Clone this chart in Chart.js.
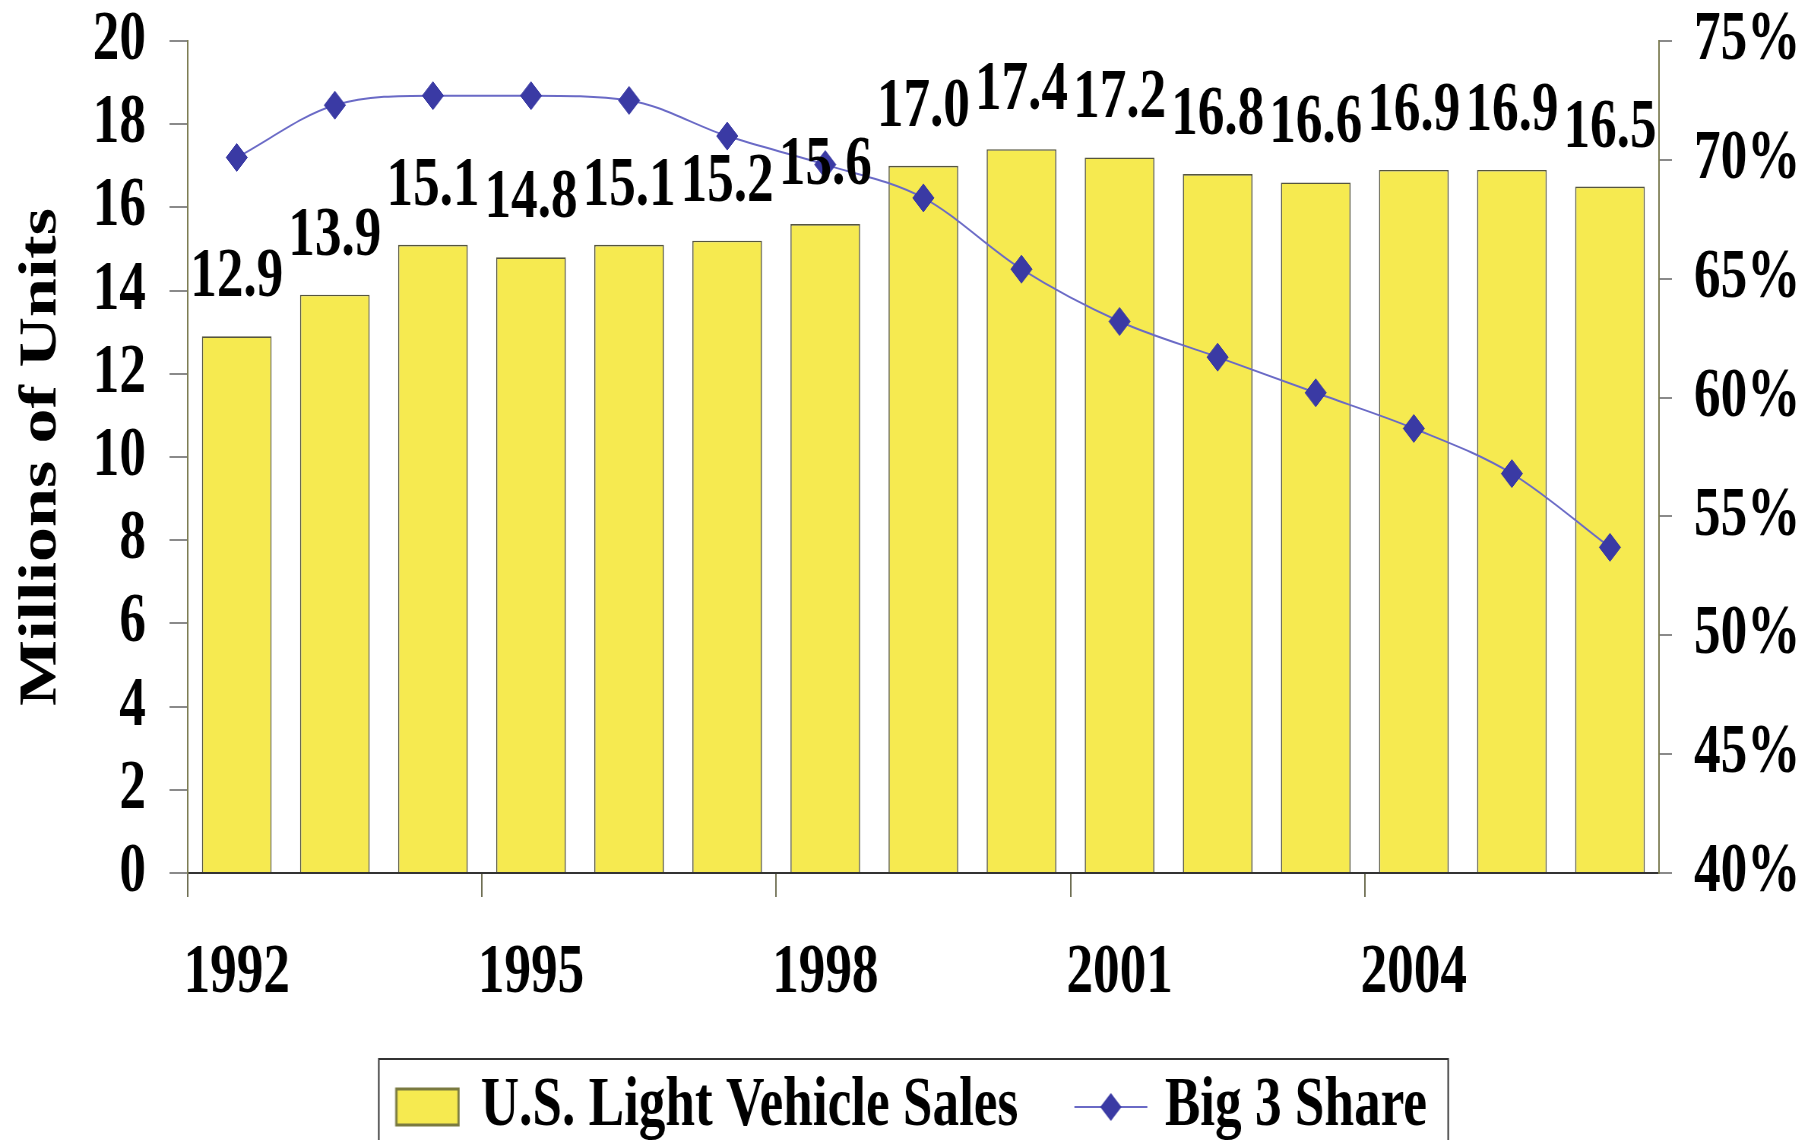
<!DOCTYPE html>
<html><head><meta charset="utf-8">
<script src="https://cdn.jsdelivr.net/npm/chart.js@4.4.0/dist/chart.umd.min.js"></script>
<style>
html,body{margin:0;padding:0;background:#fff;overflow:hidden;width:1811px;height:1140px;}
#wrap{position:absolute;left:0;top:0;width:2383px;height:1140px;transform:scaleX(0.75997);transform-origin:0 0;}
canvas{display:block;}
</style></head><body><div id="wrap"><canvas id="c" width="2383" height="1140"></canvas></div>
<script>
const years = ['1992','1993','1994','1995','1996','1997','1998','1999','2000','2001','2002','2003','2004','2005','2006'];
const sales = [12.9, 13.9, 15.1, 14.8, 15.1, 15.2, 15.6, 17.0, 17.4, 17.2, 16.8, 16.6, 16.9, 16.9, 16.5];
const big3Share = [70.1, 72.3, 72.7, 72.7, 72.5, 71.0, 69.8, 68.4, 65.4, 63.2, 61.7, 60.2, 58.7, 56.8, 53.7];
const xTickLabels = ['1992','1995','1998','2001','2004'];
const leftTicks = [0, 2, 4, 6, 8, 10, 12, 14, 16, 18, 20];
const rightTicks = [40, 45, 50, 55, 60, 65, 70, 75];
const seriesNames = ['U.S. Light Vehicle Sales', 'Big 3 Share'];
const yTitle = 'Millions of Units';

const FONT = '"Liberation Serif", "Times New Roman", serif';
const FS = 70;
const barFill = '#f6ea50';
const barBorder = '#55553e';
const lineColor = '#6a6ac6';
const pointColor = '#3a3aa4';

// legend symbols (box width 92, icons centred on the box)
function boxIcon() {
  const c = document.createElement('canvas'); c.width = 108; c.height = 40;
  const g = c.getContext('2d');
  g.fillStyle = barFill; g.fillRect(24, 2, 82, 36);
  g.strokeStyle = '#7a7a40'; g.lineWidth = 3; g.strokeRect(24, 2, 82, 36);
  return c;
}
function lineIcon() {
  const c = document.createElement('canvas'); c.width = 124; c.height = 36;
  const g = c.getContext('2d');
  g.strokeStyle = lineColor; g.lineWidth = 2;
  g.beginPath(); g.moveTo(24, 18); g.lineTo(120, 18); g.stroke();
  g.fillStyle = pointColor;
  g.beginPath(); g.moveTo(72, 4); g.lineTo(86, 18); g.lineTo(72, 32); g.lineTo(58, 18); g.closePath(); g.fill();
  return c;
}

const valueLabels = {
  id: 'valueLabels',
  afterDatasetsDraw(chart) {
    const idx = chart.data.datasets.findIndex(d => d.type === 'bar');
    const meta = chart.getDatasetMeta(idx);
    const ctx = chart.ctx;
    ctx.save();
    ctx.font = 'bold ' + FS + 'px ' + FONT;
    ctx.fillStyle = '#000';
    ctx.textAlign = 'center';
    ctx.textBaseline = 'alphabetic';
    meta.data.forEach((bar, i) => {
      ctx.fillText(sales[i].toFixed(1), bar.x, bar.y - 40);
    });
    ctx.restore();
  }
};

const legendFrame = {
  id: 'legendFrame',
  afterDraw(chart) {
    const lg = chart.legend;
    if (!lg || !lg.legendHitBoxes || !lg.legendHitBoxes.length) return;
    const hb = lg.legendHitBoxes;
    const first = hb[0], last = hb[hb.length - 1];
    const cy = first.top + first.height / 2;
    const ctx = chart.ctx;
    ctx.save();
    ctx.strokeStyle = '#333';
    ctx.lineWidth = 2;
    const l = first.left - 7, r = last.left + last.width + 28, t = cy - 48;
    ctx.beginPath();
    ctx.moveTo(l, chart.height + 10); ctx.lineTo(l, t); ctx.lineTo(r, t); ctx.lineTo(r, chart.height + 10);
    ctx.stroke();
    ctx.restore();
  }
};

const tickFont = { family: FONT, size: FS, weight: 'bold', lineHeight: 0.2 };

new Chart(document.getElementById('c'), {
  data: {
    labels: years,
    datasets: [
      {
        type: 'line', label: seriesNames[1], data: big3Share, yAxisID: 'y1',
        borderColor: lineColor, borderWidth: 2, cubicInterpolationMode: 'monotone',
        pointStyle: 'rectRot', pointRadius: 14, pointBackgroundColor: pointColor,
        pointBorderColor: pointColor, pointBorderWidth: 1, order: 0
      },
      {
        type: 'bar', label: seriesNames[0], data: sales, yAxisID: 'y',
        backgroundColor: barFill, borderColor: barBorder, borderWidth: 1.6,
        categoryPercentage: 1.0, barPercentage: 0.71, order: 1
      }
    ]
  },
  options: {
    responsive: false, animation: false, devicePixelRatio: 1,
    layout: { padding: { top: 41, left: 0, right: 0, bottom: -12 } },
    plugins: {
      tooltip: { enabled: false },
      legend: {
        position: 'bottom', fullSize: true,
        labels: {
          usePointStyle: true, pointStyleWidth: 92, padding: 66,
          font: { family: FONT, size: FS, weight: 'bold' }, color: '#000',
          generateLabels() {
            return [
              { text: seriesNames[0], pointStyle: boxIcon(), fillStyle: barFill, strokeStyle: barBorder, lineWidth: 0, hidden: false, datasetIndex: 1, fontColor: '#000' },
              { text: seriesNames[1], pointStyle: lineIcon(), fillStyle: pointColor, strokeStyle: lineColor, lineWidth: 0, hidden: false, datasetIndex: 0, fontColor: '#000' }
            ];
          }
        }
      }
    },
    scales: {
      x: {
        type: 'category', offset: true,
        grid: {
          offset: true, drawOnChartArea: false, drawTicks: true, tickLength: 24, lineWidth: 2,
          color: (c) => (c.index % 3 === 0 ? '#6e6e52' : 'rgba(0,0,0,0)')
        },
        border: { display: true, color: '#333', width: 2 },
        ticks: {
          autoSkip: false, maxRotation: 0, minRotation: 0, padding: 35, color: '#000',
          font: { family: FONT, size: FS, weight: 'bold' },
          callback: (v, i) => (xTickLabels.includes(years[i]) ? years[i] : '')
        },
        afterFit(s) { s.height = 133; }
      },
      y: {
        position: 'left', min: leftTicks[0], max: leftTicks[leftTicks.length - 1],
        grid: { drawOnChartArea: false, drawTicks: true, tickLength: 24, color: '#8a8a8a', lineWidth: 2 },
        border: { display: true, color: '#7c7c52', width: 2 },
        ticks: { stepSize: leftTicks[1] - leftTicks[0], padding: 31, color: '#000', font: tickFont },
        title: { display: true, text: yTitle, color: '#000', font: { family: FONT, size: 70, weight: 'bold' }, padding: { top: 13, bottom: 0 } },
        afterFit(s) { s.width = 247; }
      },
      y1: {
        position: 'right', min: rightTicks[0], max: rightTicks[rightTicks.length - 1],
        grid: { drawOnChartArea: false, drawTicks: true, tickLength: 17, color: '#8a8a8a', lineWidth: 2 },
        border: { display: true, color: '#7c7c52', width: 2 },
        ticks: { stepSize: rightTicks[1] - rightTicks[0], padding: 29, color: '#000', font: tickFont, callback: (v) => v + '%' },
        afterFit(s) { s.width = 200; }
      }
    }
  },
  plugins: [valueLabels, legendFrame]
});
</script></body></html>
